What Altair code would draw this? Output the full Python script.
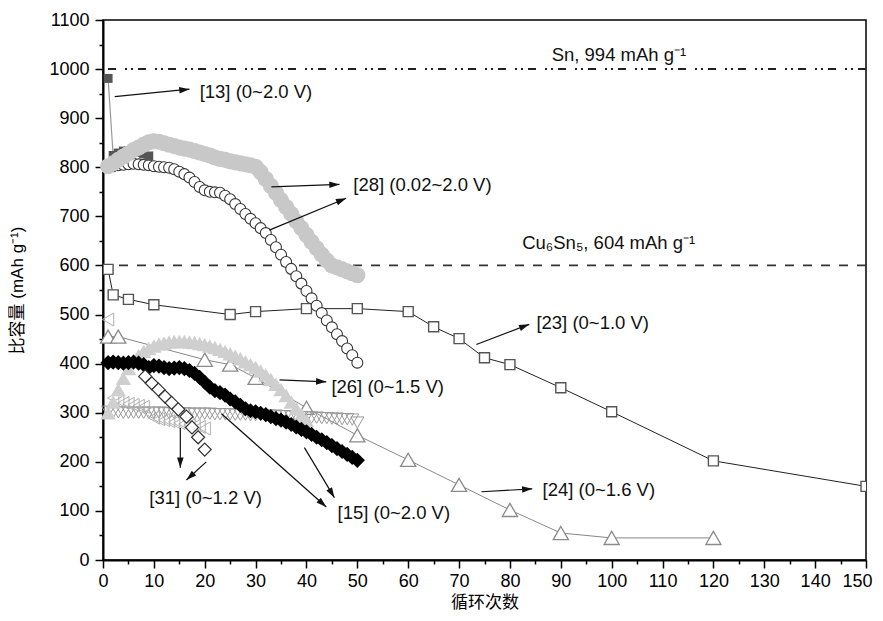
import math
import altair as alt
import pandas as pd

# ---------------- axes ----------------
x_domain = [0, 150]
y_domain = [0, 1100]
x_major = list(range(0, 151, 10))
x_minor = list(range(5, 150, 10))
y_major = list(range(0, 1101, 100))
y_minor = list(range(50, 1100, 100))
x_title = "循环次数"
y_title = "比容量 (mAh g⁻¹)"

# reference capacity lines (Sn, Cu6Sn5)
ref_sn = [1000]
ref_cu = [600]

# ---------------- series ----------------
cyc50 = list(range(1, 51))

# [13] (0~2.0 V) dark filled squares
s13_x = [1, 2, 3, 4, 5, 6, 7, 8, 9]
s13_y = [981, 824, 829, 833, 834, 833, 830, 827, 823]

# [28] light grey thick band
s28_band_y = [802, 808, 815, 822, 828, 835, 840, 846, 851, 853,
              852, 849, 846, 843, 840, 838, 836, 833, 830, 827,
              824, 820, 817, 815, 812, 810, 808, 806, 804, 801,
              790, 776, 762, 748, 733, 719, 705, 690, 676, 662,
              648, 635, 622, 610, 600, 596, 592, 588, 584, 580]

# [28] open circles
s28_circ_y = [800, 802, 804, 805, 806, 807, 806, 805, 804, 802,
              801, 800, 799, 796, 791, 786, 779, 770, 760, 753,
              750, 749, 748, 742, 735, 725, 715, 705, 695, 686,
              676, 666, 652, 637, 622, 607, 593, 578, 563, 548,
              533, 518, 503, 488, 474, 460, 446, 431, 417, 402]

# [23] (0~1.0 V) open squares
s23_x = [1, 2, 5, 10, 25, 30, 40, 50, 60, 65, 70, 75, 80, 90, 100, 120, 150]
s23_y = [592, 540, 531, 520, 500, 506, 512, 512, 506, 475, 451, 412, 398, 351, 302, 202, 150]

# [24] (0~1.6 V) open triangles
s24_x = [1, 3, 20, 25, 30, 40, 50, 60, 70, 80, 90, 100, 120]
s24_y = [455, 455, 408, 398, 371, 310, 254, 204, 153, 102, 55, 45, 45]

# [26] (0~1.5 V) light grey filled triangles
s26_x = list(range(1, 41))
s26_y = [300, 322, 347, 370, 390, 405, 416, 425, 431, 436,
         440, 442, 444, 445, 445, 445, 444, 443, 441, 439,
         436, 433, 429, 425, 420, 415, 410, 404, 398, 392,
         385, 377, 368, 358, 347, 335, 322, 309, 296, 284]

# [15] (0~2.0 V) black diamonds
s15_dia_y = [402, 403, 402, 401, 402, 403, 401, 398, 392, 396,
             395, 392, 390, 391, 392, 390, 386, 380, 372, 362,
             352, 345, 341, 336, 328, 322, 315, 308, 304, 302,
             299, 296, 292, 288, 285, 281, 276, 271, 266, 261,
             256, 250, 245, 239, 233, 227, 221, 215, 209, 203]

# [15] (0~2.0 V) open down triangles
s15_tri_y = [302, 301, 301, 300, 300, 300, 300, 300, 300, 300,
             300, 300, 299, 299, 299, 299, 298, 298, 298, 298,
             298, 297, 297, 297, 297, 296, 296, 296, 295, 295,
             295, 294, 294, 294, 293, 293, 292, 292, 291, 291,
             290, 290, 289, 289, 288, 288, 287, 287, 286, 280]

# [31] (0~1.2 V) open left triangles
s31_tri_x = list(range(1, 21))
s31_tri_y = [490, 330, 322, 320, 318, 316, 314, 312, 300, 290,
             287, 285, 283, 281, 279, 277, 275, 273, 271, 268]

# [31] (0~1.2 V) open diamonds
s31_dia_x = [8.3, 9.6, 10.9, 12.2, 13.5, 14.8, 16.4, 17.5, 18.7, 20]
s31_dia_y = [374, 360, 347, 333, 320, 307, 292, 270, 250, 225]

# ---------------- annotations ----------------
label_text = ["Sn, 994 mAh g⁻¹", "Cu₆Sn₅, 604 mAh g⁻¹", "[13] (0~2.0 V)",
              "[28] (0.02~2.0 V)", "[23] (0~1.0 V)", "[26] (0~1.5 V)",
              "[24] (0~1.6 V)", "[15] (0~2.0 V)", "[31] (0~1.2 V)"]
label_x = [88.2, 82.4, 19.0, 49.2, 85.2, 44.9, 86.4, 46.1, 9.1]
label_y = [1029, 646, 953, 764, 483, 352, 143, 96, 126]

arrow_x0 = [2.3, 33.1, 32.7, 73.4, 34.7, 74.4, 39.6, 23.3, 15.2, 20.3]
arrow_y0 = [944, 760, 672, 439, 367, 139, 229, 298, 269, 200]
arrow_x1 = [17.0, 46.5, 47.8, 83.8, 43.9, 84.4, 45.5, 43.9, 15.2, 16.4]
arrow_y1 = [959, 765, 737, 480, 363, 145, 127, 108, 188, 163]

# ---------------- chart ----------------
W, H = 763, 540
FONT = "'Liberation Sans', Arial, 'Noto Sans CJK SC', sans-serif"
xs = alt.Scale(domain=x_domain, nice=False, zero=False)
ys = alt.Scale(domain=y_domain, nice=False, zero=False)


def X(field="x", axis=None):
    return alt.X(f"{field}:Q", scale=xs, axis=axis)


def Y(field="y", axis=None):
    return alt.Y(f"{field}:Q", scale=ys, axis=axis)


def df(xv, yv):
    return pd.DataFrame({"x": xv, "y": yv})


x_axis = alt.Axis(values=x_major, orient="bottom", title=x_title, grid=False,
                  tickSize=8, tickWidth=1.5, tickColor="black",
                  domainColor="black", domainWidth=2,
                  labelFont=FONT, labelFontSize=18, labelColor="black",
                  labelPadding=4, labelFlush=False, labelOverlap=False, format="d",
                  labelOffset={"condition": {"test": "datum.value === 150", "value": -9},
                               "value": 0},
                  titleFont=FONT, titleFontSize=17, titleFontWeight="normal",
                  titleColor="black", titlePadding=4)
y_axis = alt.Axis(values=y_major, orient="left", title=y_title, grid=False,
                  tickSize=8, tickWidth=1.5, tickColor="black",
                  domainColor="black", domainWidth=2,
                  labelFont=FONT, labelFontSize=18, labelColor="black",
                  labelPadding=6, labelFlush=False, labelOverlap=False, format="d",
                  titleFont=FONT, titleFontSize=17, titleFontWeight="normal",
                  titleColor="black", titlePadding=22)
x_axis_minor = alt.Axis(values=x_minor, orient="bottom", title=None, grid=False,
                        labels=False, domain=False, tickSize=4, tickWidth=1.5,
                        tickColor="black")
y_axis_minor = alt.Axis(values=y_minor, orient="left", title=None, grid=False,
                        labels=False, domain=False, tickSize=4, tickWidth=1.5,
                        tickColor="black")

layers = []

# minor tick carriers (invisible)
layers.append(alt.Chart(pd.DataFrame({"x": x_minor})).mark_point(opacity=0)
              .encode(x=X(axis=x_axis_minor)))
layers.append(alt.Chart(pd.DataFrame({"y": y_minor})).mark_point(opacity=0)
              .encode(y=Y(axis=y_axis_minor)))

# reference lines
layers.append(alt.Chart(pd.DataFrame({"y": ref_sn}))
              .mark_rule(color="#222", strokeWidth=2, strokeDash=[8, 5, 2, 4, 2, 9])
              .encode(y=Y()))
layers.append(alt.Chart(pd.DataFrame({"y": ref_cu}))
              .mark_rule(color="#333", strokeWidth=1.8, strokeDash=[9, 9])
              .encode(y=Y()))

# [23]
d23 = df(s23_x, s23_y)
layers.append(alt.Chart(d23).mark_line(color="#222", strokeWidth=1)
              .encode(x=X(axis=x_axis), y=Y(axis=y_axis)))
layers.append(alt.Chart(d23).mark_point(shape="square", size=100, filled=True, fill="white",
                                        stroke="#555", strokeWidth=1.4, opacity=1, clip=True)
              .encode(x=X(), y=Y()))

# [24]
d24 = df(s24_x, s24_y)
layers.append(alt.Chart(d24).mark_line(color="#888", strokeWidth=1)
              .encode(x=X(), y=Y()))
layers.append(alt.Chart(d24).mark_point(shape="triangle-up", size=230, filled=True, fill="white",
                                        stroke="#8a8a8a", strokeWidth=1.3, opacity=1)
              .encode(x=X(), y=Y()))

# [15] open down triangles
layers.append(alt.Chart(df(cyc50, s15_tri_y))
              .mark_point(shape="triangle-down", size=170, filled=False, stroke="#9a9a9a",
                          strokeWidth=1, opacity=1)
              .encode(x=X(), y=Y()))

# [31] open left triangles
layers.append(alt.Chart(df(s31_tri_x, s31_tri_y))
              .mark_point(shape="triangle-left", size=170, filled=False, stroke="#b0b0b0",
                          strokeWidth=1, opacity=1)
              .encode(x=X(), y=Y()))

# [26] light grey triangles
layers.append(alt.Chart(df(s26_x, s26_y))
              .mark_point(shape="triangle-up", size=240, filled=True, color="#cfcfcf", opacity=1)
              .encode(x=X(), y=Y()))

# [15] black diamonds
layers.append(alt.Chart(df(cyc50, s15_dia_y))
              .mark_point(shape="diamond", size=230, filled=True, color="#000000", opacity=1)
              .encode(x=X(), y=Y()))

# [31] open diamonds
layers.append(alt.Chart(df(s31_dia_x, s31_dia_y))
              .mark_point(shape="diamond", size=170, filled=True, fill="white",
                          stroke="#333", strokeWidth=1.2, opacity=1)
              .encode(x=X(), y=Y()))

# [28] open circles
layers.append(alt.Chart(df(cyc50, s28_circ_y))
              .mark_point(shape="circle", size=120, filled=True, fill="white",
                          stroke="#333", strokeWidth=1.1, opacity=1)
              .encode(x=X(), y=Y()))

# [13]
d13 = df(s13_x, s13_y)
layers.append(alt.Chart(d13).mark_line(color="#999", strokeWidth=1.2)
              .encode(x=X(), y=Y()))
layers.append(alt.Chart(d13).mark_point(shape="square", size=80, filled=True, color="#555", opacity=1)
              .encode(x=X(), y=Y()))

# [28] grey band
layers.append(alt.Chart(df(cyc50, s28_band_y))
              .mark_point(shape="circle", size=260, filled=True, color="#c8c8c8", opacity=1)
              .encode(x=X(), y=Y()))

# arrows
px_x = W / (x_domain[1] - x_domain[0])
px_y = H / (y_domain[1] - y_domain[0])
arrow_ang = [math.degrees(math.atan2((x1 - x0) * px_x, (y1 - y0) * px_y)) % 360
             for x0, y0, x1, y1 in zip(arrow_x0, arrow_y0, arrow_x1, arrow_y1)]
darrow = pd.DataFrame({"x0": arrow_x0, "y0": arrow_y0, "x1": arrow_x1, "y1": arrow_y1,
                       "ang": arrow_ang})
layers.append(alt.Chart(darrow).mark_rule(color="#111", strokeWidth=1.2)
              .encode(x=X("x0"), y=Y("y0"), x2="x1:Q", y2="y1:Q"))
layers.append(alt.Chart(darrow)
              .mark_point(shape="M0,0L-0.32,1L0.32,1Z", size=420, filled=True,
                          color="#111", opacity=1)
              .encode(x=X("x1"), y=Y("y1"), angle=alt.Angle("ang:Q", scale=None)))

# labels
dlab = pd.DataFrame({"x": label_x, "y": label_y, "t": label_text})
layers.append(alt.Chart(dlab)
              .mark_text(align="left", baseline="middle", font=FONT, fontSize=18.5, color="#111")
              .encode(x=X(), y=Y(), text="t:N"))

chart = (alt.layer(*layers)
         .resolve_axis(x="independent", y="independent")
         .properties(width=W, height=H,
                     autosize=alt.AutoSizeParams(type="none"),
                     padding={"left": 95, "top": 12, "right": 8, "bottom": 52})
         .configure_view(stroke="black", strokeWidth=1.5))

chart.save("out.html", embed_options={"renderer": "svg", "actions": False})
